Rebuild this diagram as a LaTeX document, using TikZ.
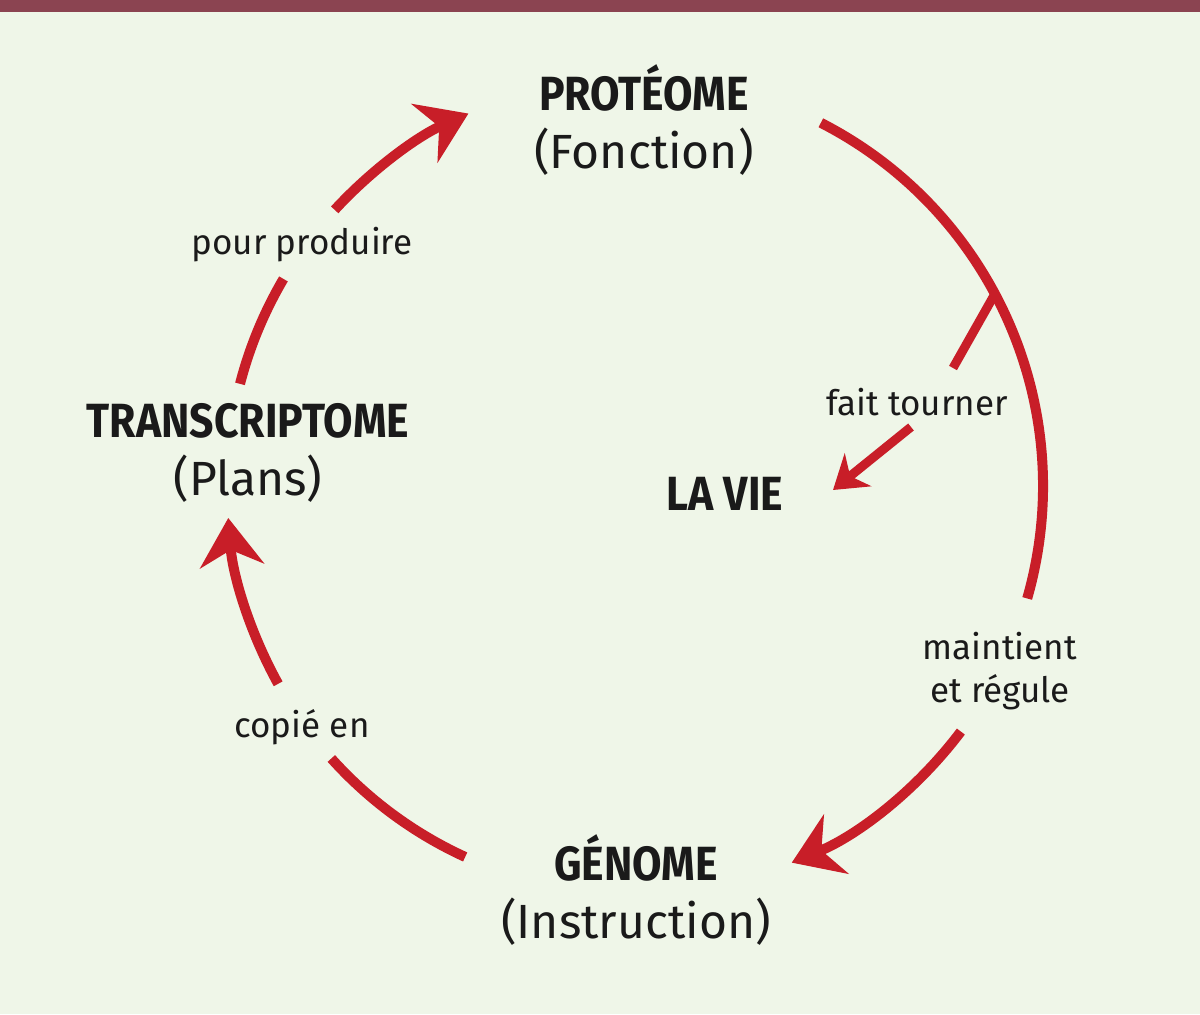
\documentclass[tikz,border=0pt]{standalone}
\usepackage{fontspec}
\setmainfont{Fira Sans}
\newfontfamily\titrefont{Fira Sans}[FakeStretch=0.89]
\usetikzlibrary{arrows.meta}
\definecolor{fond}{RGB}{239,246,232}
\definecolor{bandeau}{RGB}{139,68,81}
\definecolor{rouge}{RGB}{200,30,40}
\definecolor{encre}{RGB}{26,26,26}

\begin{document}
\begin{tikzpicture}[x=0.5pt,y=0.5pt,
    trait/.style={rouge,line width=5pt},
    fleche/.style={trait,-{Stealth[length=24pt,width=32pt,inset=8pt]}},
    etape/.style={encre,inner sep=0pt,align=center,font=\fontsize{24}{29}\selectfont},
    verbe/.style={encre,inner sep=0pt,align=center,font=\fontsize{17.5}{21.5}\selectfont}]
      \fill[fond] (0,0) rectangle (1200,1014);
      \fill[bandeau] (0,1002) rectangle (1200,1014);
      \useasboundingbox (0,0) rectangle (1200,1014);
      \coordinate (c) at (635,528);
      % les trois etapes
      \node[etape] (proteome) at (644,894) {{\titrefont\bfseries PROTÉOME}\\(Fonction)};
      \node[etape] (transcriptome) at (248,561) {{\titrefont\bfseries TRANSCRIPTOME}\\(Plans)};
      \node[etape] (genome) at (636,124) {{\titrefont\bfseries GÉNOME}\\(Instruction)};
      \node[etape,font=\fontsize{24}{29}\titrefont\bfseries] (vie) at (725,520) {LA VIE};
      % les verbes
      \node[verbe] (produire) at (302,769) {pour produire};
      \node[verbe] (tourner) at (917,612) {fait tourner};
      \node[verbe] (regule) at (1000,343) {maintient\\et régule};
      \node[verbe] (copie) at (302,287) {copié en};
      % le cycle
      \draw[trait] ([shift={(62.9:408)}]c) arc[start angle=62.9,end angle=-16,radius=408];
      \draw[fleche] ([shift={(-37:408)}]c) arc[start angle=-37,end angle=-67.4,radius=408];
      \draw[trait] ([shift={(245.4:408)}]c) arc[start angle=245.4,end angle=221.9,radius=408];
      \draw[fleche] ([shift={(209:408)}]c) arc[start angle=209,end angle=184.5,radius=408];
      \draw[trait] ([shift={(165.5:408)}]c) arc[start angle=165.5,end angle=149.5,radius=408];
      \draw[fleche] ([shift={(137.4:408)}]c) arc[start angle=137.4,end angle=114.1,radius=408];
      % vers la vie
      \coordinate (embranchement) at ([shift={(28.1:408)}]c);
      \coordinate (bout) at (953,646);
      \coordinate (depart) at (911,587);
      \coordinate (pointe) at (833,524);
      \draw[trait,line width=4.5pt] (embranchement) -- (bout);
      \draw[trait,line width=4.5pt,-{Stealth[length=16pt,width=21pt,inset=5pt]}] (depart) -- (pointe);
\end{tikzpicture}
\end{document}
